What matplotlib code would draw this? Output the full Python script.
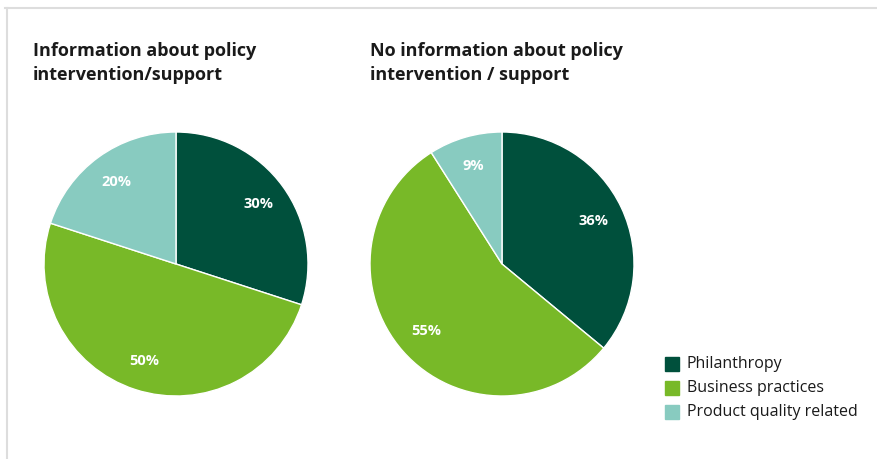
import matplotlib
matplotlib.use("Agg")
import matplotlib.pyplot as plt
from matplotlib.patches import Rectangle
from matplotlib.lines import Line2D

categories = ["Philanthropy", "Business practices", "Product quality related"]
with_info = [30, 50, 20]
without_info = [36, 55, 9]
titles = ["Information about policy\nintervention/support",
          "No information about policy\nintervention / support"]
colors = ["#00503C", "#78B928", "#88CBC0"]

W, H = 877, 459
fig = plt.figure(figsize=(W / 100, H / 100), dpi=100)
plt.rcParams['font.family'] = ['Open Sans', 'DejaVu Sans']

def px_axes(x0, y0, x1, y1):
    return fig.add_axes([x0 / W, 1 - y1 / H, (x1 - x0) / W, (y1 - y0) / H])

# frame lines
fig.add_artist(Line2D([5 / W, 1], [1 - 8 / H, 1 - 8 / H], color="#DDDDDD", lw=1.5))
fig.add_artist(Line2D([7 / W, 7 / W], [0, 1 - 8 / H], color="#DDDDDD", lw=1.5))

centers = [(176, 264), (502, 264)]
r = 132
for (cx, cy), vals in zip(centers, [with_info, without_info]):
    ax = px_axes(cx - r, cy - r, cx + r, cy + r)
    wedges, texts, autotexts = ax.pie(
        vals, colors=colors, startangle=90, counterclock=False,
        autopct=lambda p: f"{p:.0f}%", pctdistance=0.77,
        wedgeprops=dict(edgecolor="white", linewidth=1),
        textprops=dict(color="white", fontsize=10.5, fontweight="bold"))
    ax.set_xlim(-1, 1)
    ax.set_ylim(-1, 1)
    ax.set_aspect("auto")
    ax.axis("off")

fig.text(33 / W, 1 - 63 / H, titles[0], fontsize=13, fontweight="bold",
         va="center", ha="left", linespacing=1.4, color="#1a1a1a")
fig.text(370 / W, 1 - 63 / H, titles[1], fontsize=13, fontweight="bold",
         va="center", ha="left", linespacing=1.4, color="#1a1a1a")

# legend
for i, (lab, col) in enumerate(zip(categories, colors)):
    y = 364 + i * 24
    fig.add_artist(Rectangle((665 / W, 1 - (y + 7) / H), 14 / W, 14 / H,
                             color=col, transform=fig.transFigure))
    fig.text(687 / W, 1 - y / H, lab, fontsize=11.5, va="center", ha="left",
             color="#1a1a1a")

fig.savefig("out.png", dpi=100)
